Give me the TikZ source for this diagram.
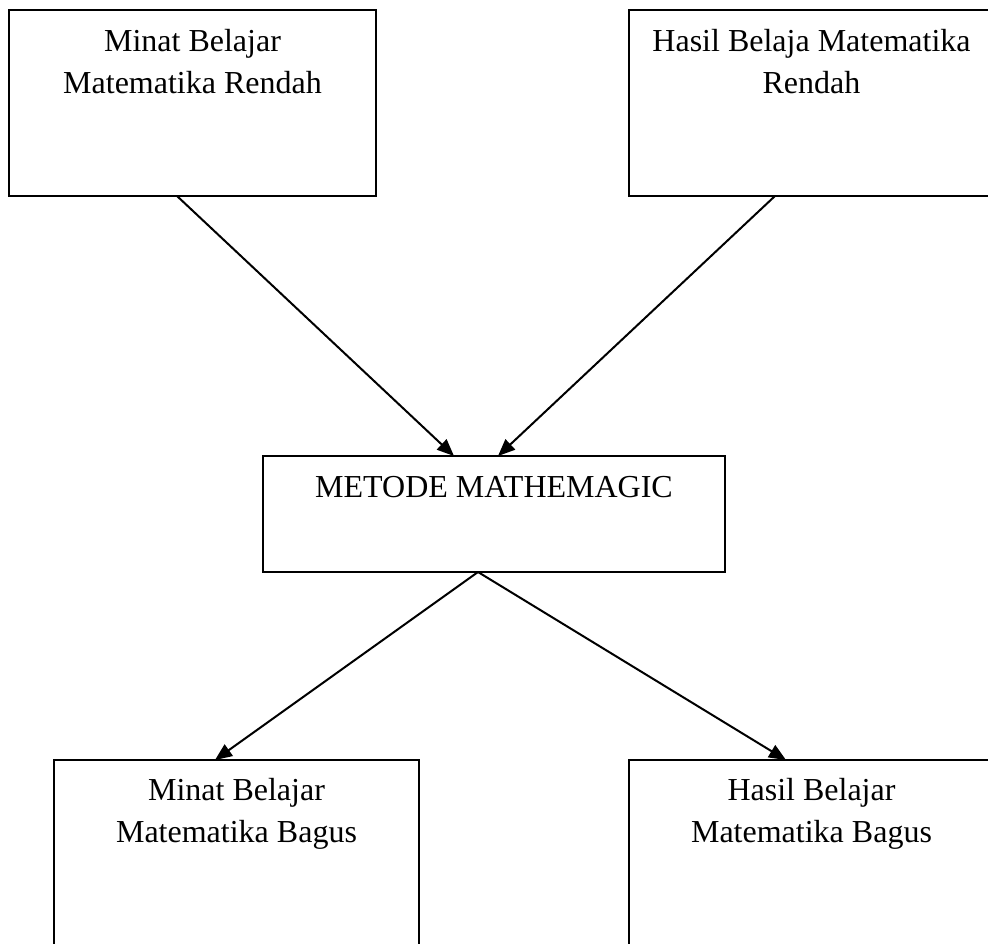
\documentclass[tikz,border=0pt]{standalone}
\usepackage{fontspec}
\setmainfont{Liberation Serif}
\usetikzlibrary{arrows.meta}
\begin{document}
\begin{tikzpicture}[x=1pt,y=-1pt,
  boxnode/.style={draw=black,line width=2pt,inner sep=0pt,outer sep=0pt,shape=rectangle},
  txt/.style={font=\fontsize{32}{42}\selectfont,align=center,anchor=base,inner sep=0pt},
  conn/.style={line width=2pt,-{Triangle[length=17pt,width=14pt]}}]
\useasboundingbox (0,0) rectangle (988,943);
\fill[white] (0,0) rectangle (988,943);
% boxes
\node[boxnode,minimum width=367pt,minimum height=186pt] (tl) at (192.5,103) {};
\node[boxnode,minimum width=365pt,minimum height=186pt] (tr) at (811.5,103) {};
\node[boxnode,minimum width=462pt,minimum height=116pt] (mid) at (494,514) {};
\node[boxnode,minimum width=365pt,minimum height=220pt] (bl) at (236.5,870) {};
\node[boxnode,minimum width=365pt,minimum height=220pt] (br) at (811.5,870) {};
% texts (base = baseline of the last line)
\node[txt] (tltext) at (192.5,93) {Minat Belajar\\Matematika Rendah};
\node[txt] (trtext) at (811.5,93) {Hasil Belaja Matematika\\Rendah};
\node[txt] (midtext) at (494,497) {METODE MATHEMAGIC};
\node[txt] (bltext) at (236.5,842) {Minat Belajar\\Matematika Bagus};
\node[txt] (brtext) at (811.5,842) {Hasil Belajar\\Matematika Bagus};
% connectors
\draw[conn] ([xshift=-15.5pt]tl.south) -- ([xshift=-40pt]mid.north);
\draw[conn] ([xshift=-36.5pt]tr.south) -- ([xshift=4pt]mid.north);
\draw[conn] ([xshift=-16pt]mid.south) -- ([xshift=-21.5pt]bl.north);
\draw[conn] ([xshift=-16pt]mid.south) -- ([xshift=-25.5pt]br.north);
\end{tikzpicture}
\end{document}
